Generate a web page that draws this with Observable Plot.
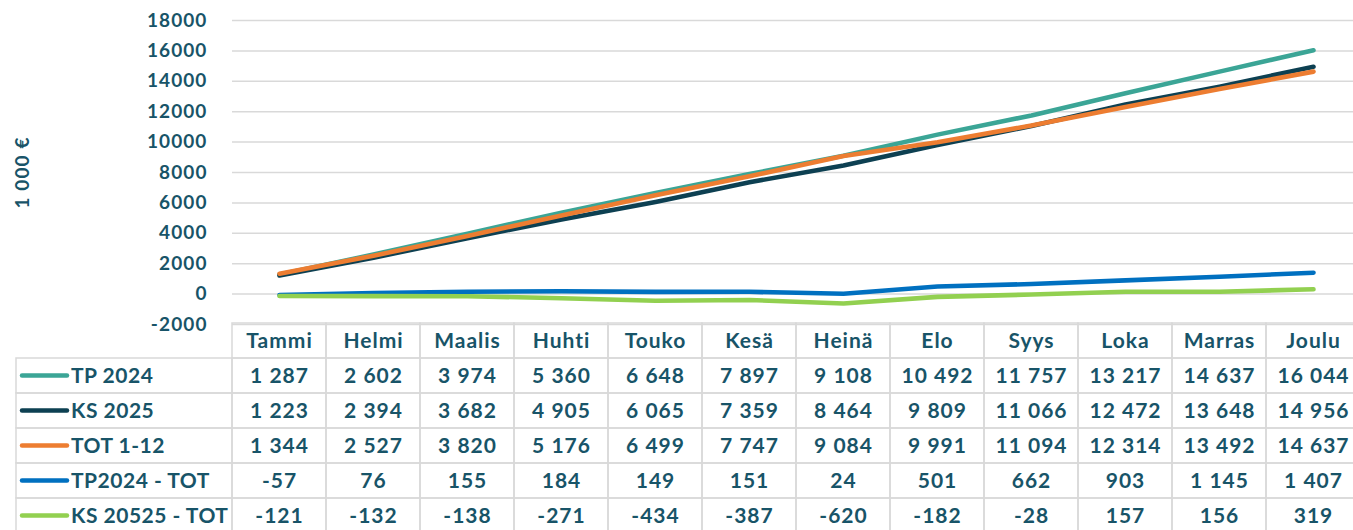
<!DOCTYPE html>
<html><head><meta charset="utf-8">
<script src="https://cdn.jsdelivr.net/npm/d3@7"></script>
<script src="https://cdn.jsdelivr.net/npm/@observablehq/plot@0.6"></script>
<style>
html,body{margin:0;padding:0;background:#fff;}
#wrap{position:relative;width:1353px;height:530px;overflow:hidden;}
#wrap svg{position:absolute;left:0;overflow:visible;max-width:none;background:transparent;}
</style></head><body><div id="wrap"></div>
<script>
const months = ["Tammi","Helmi","Maalis","Huhti","Touko","Kesä","Heinä","Elo","Syys","Loka","Marras","Joulu"];
const seriesNames = ["TP 2024","KS 2025","TOT 1-12","TP2024 - TOT","KS 20525 - TOT"];
const tp2024   = [1287,2602,3974,5360,6648,7897,9108,10492,11757,13217,14637,16044];
const ks2025   = [1223,2394,3682,4905,6065,7359,8464,9809,11066,12472,13648,14956];
const tot112   = [1344,2527,3820,5176,6499,7747,9084,9991,11094,12314,13492,14637];
const tpMinusTot = [-57,76,155,184,149,151,24,501,662,903,1145,1407];
const ksMinusTot = [-121,-132,-138,-271,-434,-387,-620,-182,-28,157,156,319];
const seriesColors = ["#3BA596","#0D4052","#ED7D31","#0070C0","#92D050"];
const yTicks = [-2000,0,2000,4000,6000,8000,10000,12000,14000,16000,18000];
const yLabel = "1 000 €";

const txt = "#185468";
const grid = "#d9d9d9";
const font = "Lato, 'Open Sans', sans-serif";
const seriesValues = [tp2024, ks2025, tot112, tpMinusTot, ksMinusTot];
const fmt = d3.formatLocale({decimal: ",", thousands: " ", grouping: [3], currency: ["", " €"], minus: "-"}).format(",d");

const long = [];
seriesNames.forEach((s, i) => months.forEach((m, j) => long.push({series: s, month: m, value: seriesValues[i][j]})));

const wrap = document.getElementById("wrap");

const chart = Plot.plot({
  width: 1353, height: 340,
  marginTop: 20, marginBottom: 16, marginLeft: 232, marginRight: 0,
  style: {fontFamily: font, fontWeight: 700, fontSize: "19px", color: txt, background: "transparent", overflow: "visible", letterSpacing: "1.1px"},
  x: {type: "point", domain: months, range: [232, 1360], padding: 0.5, axis: null},
  y: {domain: [-2000, 18000], ticks: yTicks, tickFormat: d => String(d), tickSize: 0, tickPadding: 25, label: null},
  color: {domain: seriesNames, range: seriesColors},
  marks: [
    Plot.ruleY(yTicks, {stroke: grid, strokeWidth: 1.5}),
    Plot.text([yLabel], {frameAnchor: "left", dx: -210, rotate: -90, textAnchor: "middle", fontSize: 19, fill: txt, text: d => d}),
    Plot.line(long, {x: "month", y: "value", z: "series", stroke: "series", strokeWidth: 4.6, strokeLinecap: "round", strokeLinejoin: "round"})
  ]
});
chart.style.top = "0px";
wrap.appendChild(chart);

const rowKeys = ["_hdr", ...seriesNames];
const cells = [];
months.forEach(m => cells.push({row: "_hdr", month: m, label: m}));
seriesNames.forEach((s, i) => months.forEach((m, j) => cells.push({row: s, month: m, label: fmt(seriesValues[i][j])})));

function labelColumn(...args) {
  const sc = (args[0] && typeof args[0].y === "function") ? args[0] : args[1];
  const y = sc.y;
  const bw = y.bandwidth ? y.bandwidth() : 35;
  const g = d3.create("svg:g");
  seriesNames.forEach((name, i) => {
    const top = y(name);
    g.append("rect").attr("x", 16).attr("y", top).attr("width", 216).attr("height", bw)
      .attr("fill", "none").attr("stroke", grid).attr("stroke-width", 1.5);
    g.append("line").attr("x1", 22).attr("x2", 67).attr("y1", top + bw / 2).attr("y2", top + bw / 2)
      .attr("stroke", seriesColors[i]).attr("stroke-width", 4.5).attr("stroke-linecap", "round");
    g.append("text").attr("x", 71).attr("y", top + bw / 2).attr("dy", "0.35em")
      .attr("text-anchor", "start").attr("fill", txt).attr("font-size", 21)
      .attr("letter-spacing", "0.5px").text(name);
  });
  return g.node();
}

const table = Plot.plot({
  width: 1353, height: 210,
  marginTop: 0, marginBottom: 0, marginLeft: 0, marginRight: 0,
  style: {fontFamily: font, fontWeight: 700, fontSize: "21px", color: txt, background: "transparent", overflow: "visible", letterSpacing: "1px"},
  x: {type: "band", domain: months, range: [232, 1360], padding: 0, axis: null},
  y: {type: "band", domain: rowKeys, range: [0, 210], padding: 0, axis: null},
  marks: [
    Plot.cell(cells, {x: "month", y: "row", fill: "none", stroke: grid, strokeWidth: 1.5, inset: 0}),
    Plot.text(cells, {x: "month", y: "row", text: "label", fill: txt, fontSize: 21}),
    labelColumn
  ]
});
table.style.top = "323px";
wrap.appendChild(table);
</script>
</body></html>
